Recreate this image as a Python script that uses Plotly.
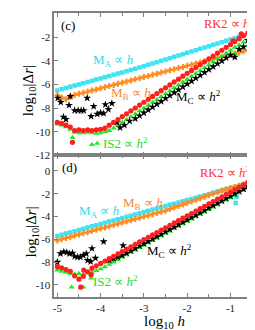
import plotly.graph_objects as go

# ---------------- data ----------------
LOG_H = [-5.0, -4.9, -4.8, -4.7, -4.6, -4.5, -4.4, -4.3, -4.2, -4.1,
         -4.0, -3.9, -3.8, -3.7, -3.6, -3.5, -3.4, -3.3, -3.2, -3.1,
         -3.0, -2.9, -2.8, -2.7, -2.6, -2.5, -2.4, -2.3, -2.2, -2.1,
         -2.0, -1.9, -1.8, -1.7, -1.6, -1.5, -1.4, -1.3, -1.2, -1.1,
         -1.0, -0.9, -0.8, -0.7, -0.6, -0.5, -0.4, -0.3]

# panel (c)
MA_C = [-6.50, -6.40, -6.30, -6.19, -6.09, -5.99, -5.89, -5.79, -5.68, -5.58,
        -5.48, -5.38, -5.28, -5.17, -5.07, -4.97, -4.87, -4.77, -4.66, -4.55,
        -4.44, -4.32, -4.21, -4.10, -3.98, -3.87, -3.76, -3.64, -3.53, -3.42,
        -3.30, -3.19, -3.08, -2.96, -2.85, -2.74, -2.62, -2.51, -2.40, -2.28,
        -2.17, -2.06, -1.94, -1.83, -1.72, -1.60, -1.49, -1.38]
MB_C = [-6.90, -7.10, -7.25, -7.05, -6.88, -6.79, -6.69, -6.60, -6.50, -6.41,
        -6.31, -6.22, -6.12, -6.03, -5.93, -5.84, -5.74, -5.65, -5.55, -5.46,
        -5.36, -5.27, -5.17, -5.08, -4.98, -4.89, -4.79, -4.70, -4.60, -4.51,
        -4.41, -4.32, -4.22, -4.13, -4.03, -3.94, -3.84, -3.75, -3.65, -3.56,
        -3.46, -3.37, -3.27, -3.18, -3.08, -2.99, -3.30, -4.50]
MB_C_EXTRA_X = [-0.55, -0.4, -0.3]
MB_C_EXTRA_Y = [-3.9, -2.9, -2.8]
RK2_C = [-9.20, -9.30, -9.45, -9.60, -9.90, -9.85, -9.90, -9.85, -9.90, -9.85,
         -9.80, -9.70, -9.45, -9.21, -8.97, -8.72, -8.48, -8.23, -7.99, -7.74,
         -7.50, -7.25, -7.01, -6.76, -6.52, -6.27, -6.03, -5.78, -5.54, -5.29,
         -5.05, -4.80, -4.56, -4.31, -4.07, -3.82, -3.58, -3.33, -3.09, -2.84,
         -2.60, -2.35, -2.11, -1.86, -1.62, -1.37, -1.00, -0.70]
RK2_C_EXTRA_X = [-4.65, -0.94, -0.75, -0.45]
RK2_C_EXTRA_Y = [-10.9, -2.3, -1.7, -1.3]
IS2_C = [-9.35, -9.45, -9.60, -9.80, -10.05, -10.10, -10.10, -10.05, -10.10, -10.15,
         -10.10, -10.00, -9.90, -9.70, -9.47, -9.22, -8.98, -8.73, -8.49, -8.24,
         -8.00, -7.75, -7.51, -7.26, -7.02, -6.77, -6.53, -6.28, -6.04, -5.79,
         -5.55, -5.30, -5.06, -4.81, -4.57, -4.32, -4.08, -3.83, -3.59, -3.34,
         -3.10, -3.40, -2.65, -2.40, -2.70, -2.10, -2.40, -1.90]
IS2_C_EXTRA_X = [-4.65, -4.20, -4.08, -0.9]
IS2_C_EXTRA_Y = [-10.5, -11.1, -11.0, -2.85]
MC_C_NOISY_X = [-4.99, -4.92, -4.86, -4.80, -4.73, -4.70, -4.60, -4.52, -4.45, -4.39,
                -4.31, -4.22, -4.16, -4.08, -4.00, -3.93, -3.89, -3.82, -3.74, -3.62,
                -3.55, -3.45, -3.33]
MC_C_NOISY_Y = [-7.15, -7.50, -8.75, -8.95, -7.75, -7.00, -8.20, -8.20, -8.20, -8.20,
                -7.15, -8.70, -7.85, -8.50, -8.40, -8.45, -7.70, -8.10, -7.60, -9.20,
                -9.65, -9.45, -9.10]
MC_C_LINE = [-8.89, -8.64, -8.40, -8.15, -7.91, -7.66, -7.42, -7.17, -6.93, -6.68,
             -6.44, -6.19, -5.95, -5.70, -5.46, -5.21, -4.97, -4.72, -4.48, -4.23,
             -3.99, -3.74, -3.50, -3.67, -3.00, -2.80, -2.25, -2.85, -2.40, -2.20]

# panel (d)
MA_D = [-5.70, -5.60, -5.49, -5.39, -5.28, -5.18, -5.07, -4.97, -4.86, -4.76,
        -4.65, -4.55, -4.44, -4.34, -4.23, -4.13, -4.02, -3.92, -3.81, -3.71,
        -3.60, -3.50, -3.39, -3.29, -3.18, -3.08, -2.97, -2.87, -2.76, -2.66,
        -2.55, -2.45, -2.34, -2.24, -2.13, -2.03, -1.92, -1.82, -1.71, -1.61,
        -1.50, -1.40, -1.29, -1.19, -1.08, -0.98, -0.87, -0.77]
MA_D_EXTRA_X = [-0.86, -0.88]
MA_D_EXTRA_Y = [-2.25, -2.8]
MB_D = [-6.10, -6.00, -5.89, -5.79, -5.68, -5.58, -5.47, -5.37, -5.26, -5.16,
        -5.05, -4.95, -4.84, -4.74, -4.63, -4.53, -4.42, -4.32, -4.21, -4.11,
        -4.00, -3.90, -3.79, -3.69, -3.58, -3.48, -3.34, -3.21, -3.07, -2.94,
        -2.80, -2.67, -2.53, -2.40, -2.26, -2.13, -1.99, -1.86, -1.72, -1.61,
        -1.50, -1.40, -1.29, -1.19, -1.08, -0.98, -0.87, -0.77]
RK2_D = [-8.40, -8.50, -8.65, -8.80, -9.20, -9.50, -9.25, -8.85, -8.53, -8.32,
         -8.11, -7.91, -7.70, -7.49, -7.28, -7.07, -6.86, -6.65, -6.44, -6.23,
         -6.02, -5.82, -5.61, -5.40, -5.19, -4.98, -4.77, -4.56, -4.35, -4.14,
         -3.93, -3.73, -3.52, -3.31, -3.10, -2.89, -2.68, -2.47, -2.26, -2.05,
         -1.85, -1.64, -1.43, -1.22, -1.01, -0.80, -0.59, -0.38]
RK2_D_EXTRA_X = [-4.46, -4.39, -4.22]
RK2_D_EXTRA_Y = [-10.2, -8.7, -9.1]
IS2_D = [-8.70, -8.80, -8.90, -9.00, -9.05, -9.00, -9.05, -8.95, -8.90, -8.75,
         -8.60, -8.41, -8.20, -7.99, -7.78, -7.57, -7.36, -7.15, -6.94, -6.73,
         -6.52, -6.32, -6.11, -5.90, -5.69, -5.48, -5.27, -5.06, -4.85, -4.64,
         -4.43, -4.23, -4.02, -3.81, -3.60, -3.39, -3.18, -2.97, -2.76, -2.55,
         -2.35, -2.14, -1.93, -1.72, -1.51, -1.30, -1.09, -0.88]
IS2_D_EXTRA_X = [-4.67, -4.40, -4.22]
IS2_D_EXTRA_Y = [-10.2, -10.2, -9.4]
MC_D_NOISY_X = [-5.00, -4.93, -4.85, -4.78, -4.72, -4.65, -4.60, -4.53, -4.47, -4.40,
                -4.33, -4.30, -4.23, -4.20, -4.12, -3.93, -3.80, -3.70, -3.60, -3.48,
                -3.50]
MC_D_NOISY_Y = [-8.00, -7.25, -7.10, -7.15, -7.25, -7.20, -7.50, -7.55, -7.55, -7.40,
                -7.25, -7.85, -7.95, -6.80, -7.65, -6.20, -7.85, -7.70, -7.55, -6.55,
                -7.40]
MC_D_LINE = [-7.21, -7.00, -6.79, -6.58, -6.37, -6.17, -5.96, -5.75, -5.54, -5.33,
             -5.12, -4.91, -4.70, -4.49, -4.28, -4.08, -3.87, -3.66, -3.45, -3.24,
             -3.03, -2.82, -2.61, -2.40, -2.20, -1.99, -1.78, -1.57, -1.36, -1.15,
             -0.94, -0.73]

X_TICKS = [-5, -4, -3, -2, -1]
X_TICK_TEXT = ["-5", "-4", "-3", "-2", "-1"]
Y_TICKS_C = [0, -2, -4, -6, -8, -10, -12]
Y_TICK_TEXT_C = ["0", "-2", "-4", "-6", "-8", "-10", "-12"]
Y_TICKS_D = [0, -2, -4, -6, -8, -10]
Y_TICK_TEXT_D = ["0", "-2", "-4", "-6", "-8", "-10"]

# ---------------- styling ----------------
W, H = 255, 330
FONT = "Liberation Serif"
CYAN = "#3FE3F2"
ORANGE = "#FF8A1C"
RED = "#FF1F1F"
GREEN = "#1EEE1E"
BLACK = "#000000"
AXIS = "#808080"


def px(x):
    return x / W


def py(y):
    return 1 - y / H


fig = go.Figure()


def add_panel(xa, ya, ma, mb, is2, is2x, is2y, mcx, mcy, rk2, rk2x, rk2y,
              max_=None, may_=None, mbx=None, mby=None):
    common = dict(mode="markers", xaxis=xa, yaxis=ya, showlegend=False,
                  hoverinfo="skip")
    sq = dict(symbol="square", size=4.5, color=CYAN)
    cr = dict(symbol="cross", size=5, color=ORANGE)
    fig.add_trace(go.Scatter(x=LOG_H, y=ma, marker=sq, **common))
    if max_:
        fig.add_trace(go.Scatter(x=max_, y=may_, marker=sq, **common))
    fig.add_trace(go.Scatter(x=LOG_H, y=mb, marker=cr, **common))
    if mbx:
        fig.add_trace(go.Scatter(x=mbx, y=mby, marker=cr, **common))
    fig.add_trace(go.Scatter(x=LOG_H + is2x, y=is2 + is2y,
                             marker=dict(symbol="triangle-up", size=5.5, color=GREEN), **common))
    fig.add_trace(go.Scatter(x=mcx, y=mcy, marker=dict(symbol="star", size=6, color=BLACK), **common))
    fig.add_trace(go.Scatter(x=LOG_H + rk2x, y=rk2 + rk2y,
                             marker=dict(symbol="circle", size=5.2, color=RED), **common))


add_panel("x", "y", MA_C, MB_C, IS2_C, IS2_C_EXTRA_X, IS2_C_EXTRA_Y,
          MC_C_NOISY_X + LOG_H[18:], MC_C_NOISY_Y + MC_C_LINE,
          RK2_C, RK2_C_EXTRA_X, RK2_C_EXTRA_Y,
          mbx=MB_C_EXTRA_X, mby=MB_C_EXTRA_Y)
add_panel("x2", "y2", MA_D, MB_D, IS2_D, IS2_D_EXTRA_X, IS2_D_EXTRA_Y,
          MC_D_NOISY_X + LOG_H[16:], MC_D_NOISY_Y + MC_D_LINE,
          RK2_D, RK2_D_EXTRA_X, RK2_D_EXTRA_Y,
          max_=MA_D_EXTRA_X, may_=MA_D_EXTRA_Y)

XR = [-5.07, -0.295]
XDOM = [px(45), 1.0]
tickfont = dict(family=FONT, size=11, color="#222222")
xcommon = dict(range=XR, domain=XDOM, showline=True, linecolor=AXIS, linewidth=1.5,
               mirror="ticks", ticks="inside", ticklen=4, tickcolor=AXIS, tickwidth=1,
               tickvals=X_TICKS, ticktext=X_TICK_TEXT, showgrid=False, zeroline=False,
               tickfont=tickfont,
               minor=dict(ticks="inside", dtick=0.5, tick0=-5, ticklen=3,
                          tickcolor=AXIS, showgrid=False))
ycommon = dict(showline=True, linecolor=AXIS, linewidth=1.5, mirror=True,
               ticks="inside", ticklen=4, tickcolor=AXIS, tickwidth=1,
               showgrid=False, zeroline=False, tickfont=tickfont)

fig.update_layout(
    width=W, height=H, margin=dict(l=0, r=0, t=0, b=0),
    paper_bgcolor="white", plot_bgcolor="white",
    xaxis=dict(anchor="y", showticklabels=False, **xcommon),
    yaxis=dict(anchor="x", domain=[py(150), py(5)], range=[-12, 0.08],
               tickvals=Y_TICKS_C, ticktext=Y_TICK_TEXT_C, **ycommon),
    xaxis2=dict(anchor="y2", **xcommon),
    yaxis2=dict(anchor="x2", domain=[py(294), py(150)], range=[-11.03, 1.38],
                tickvals=Y_TICKS_D, ticktext=Y_TICK_TEXT_D, **ycommon),
)


def label(text, x, y, color, size=13, angle=0):
    fig.add_annotation(text=text, x=px(x), y=py(y), xref="paper", yref="paper",
                       showarrow=False, textangle=angle, xanchor="center", yanchor="middle",
                       font=dict(family=FONT, size=size, color=color))


label("(c)", 59, 18, BLACK)
label("(d)", 60, 162, BLACK)
label("M<sub>A</sub> ∝ <i>h</i>", 105, 53, "#33D8E8")
label("M<sub>B</sub> ∝ <i>h</i>", 123, 87, "#F28A2E")
label("IS2 ∝ <i>h</i><sup>2</sup>", 117, 138, "#22DD22")
label("M<sub>C</sub> ∝ <i>h</i><sup>2</sup>", 192, 91, BLACK)
label("RK2 ∝ <i>h</i><sup>2</sup>", 222, 15, "#FF3030", size=12.5)
label("M<sub>A</sub> ∝ <i>h</i>", 90, 207, "#33D8E8")
label("M<sub>B</sub> ∝ <i>h</i>", 135, 199, "#F28A2E")
label("IS2 ∝ <i>h</i><sup>2</sup>", 107, 278, "#22DD22")
label("M<sub>C</sub> ∝ <i>h</i><sup>2</sup>", 162, 248, BLACK)
label("RK2 ∝ <i>h</i><sup>2</sup>", 218, 167, "#FF3030", size=12.5)
label("log<sub>10</sub>|Δ<i>r</i>|", 20, 84, BLACK, size=15, angle=-90)
label("log<sub>10</sub>|Δ<i>r</i>|", 22, 228, BLACK, size=15, angle=-90)
label("log<sub>10</sub> <i>h</i>", 157, 320, BLACK, size=15)

fig.write_html("out.html")
